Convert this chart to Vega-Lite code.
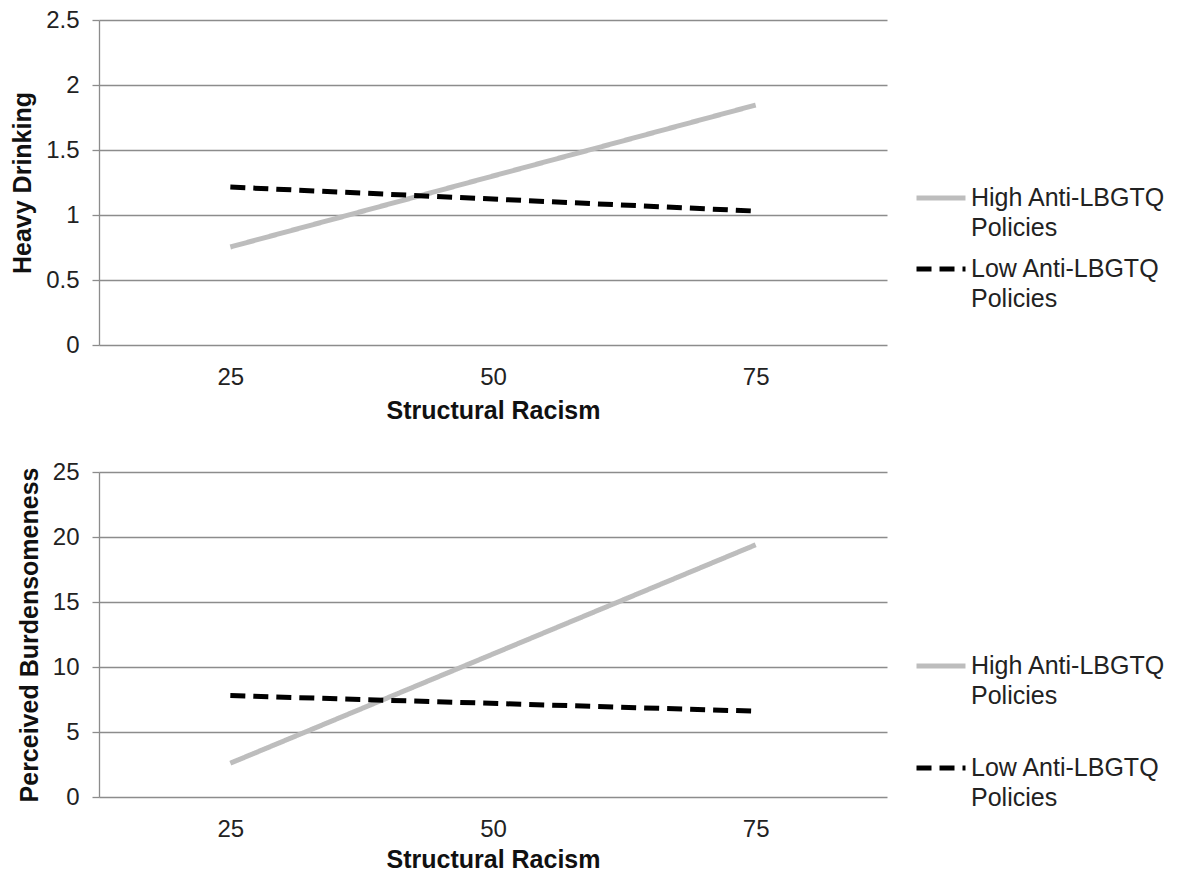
{
  "$schema": "https://vega.github.io/schema/vega-lite/v6.json",
  "background": "white",
  "padding": {"left": 10, "top": 8, "right": 0, "bottom": 5},
  "config": {
    "font": "Liberation Sans",
    "view": {"stroke": null},
    "concat": {"spacing": 37},
    "style": {"guide-label": {"lineHeight": 30}},
    "axis": {
      "labelFont": "Liberation Sans",
      "labelFontSize": 24,
      "labelColor": "#222222",
      "titleFont": "Liberation Sans",
      "titleFontSize": 25,
      "titleFontWeight": "bold",
      "titleColor": "#111111",
      "gridColor": "#8c8c8c",
      "gridWidth": 1.3,
      "domainColor": "#8c8c8c",
      "domainWidth": 1.3,
      "tickColor": "#8c8c8c",
      "tickWidth": 1.3
    },
    "legend": {
      "labelFont": "Liberation Sans",
      "labelFontSize": 25,
      "labelColor": "#222222",
      "labelLimit": 400
    }
  },
  "datasets": {
    "rows": [
      {"outcome": "Heavy Drinking", "policy": "High Anti-LBGTQ Policies", "racism": 25, "value": 0.754},
      {"outcome": "Heavy Drinking", "policy": "High Anti-LBGTQ Policies", "racism": 75, "value": 1.846},
      {"outcome": "Heavy Drinking", "policy": "Low Anti-LBGTQ Policies", "racism": 25, "value": 1.215},
      {"outcome": "Heavy Drinking", "policy": "Low Anti-LBGTQ Policies", "racism": 75, "value": 1.03},
      {"outcome": "Perceived Burdensomeness", "policy": "High Anti-LBGTQ Policies", "racism": 25, "value": 2.6},
      {"outcome": "Perceived Burdensomeness", "policy": "High Anti-LBGTQ Policies", "racism": 75, "value": 19.4},
      {"outcome": "Perceived Burdensomeness", "policy": "Low Anti-LBGTQ Policies", "racism": 25, "value": 7.8},
      {"outcome": "Perceived Burdensomeness", "policy": "Low Anti-LBGTQ Policies", "racism": 75, "value": 6.6}
    ]
  },
  "resolve": {"scale": {"color": "independent", "strokeDash": "independent"}, "legend": {"color": "independent", "strokeDash": "independent"}},
  "vconcat": [
    {
      "width": 788,
      "height": 325,
      "data": {"name": "rows"},
      "transform": [{"filter": "datum.outcome == 'Heavy Drinking'"}],
      "mark": {"type": "line", "strokeWidth": 5},
      "encoding": {
        "x": {
          "field": "racism", "type": "ordinal", "title": "Structural Racism",
          "scale": {"type": "point", "domain": [25, 50, 75], "padding": 0.5},
          "axis": {"labelAngle": 0, "ticks": false, "domain": false, "grid": false, "labelPadding": 20, "titlePadding": 9}
        },
        "y": {
          "field": "value", "type": "quantitative", "title": "Heavy Drinking",
          "scale": {"domain": [0, 2.5]},
          "axis": {"values": [0, 0.5, 1, 1.5, 2, 2.5], "format": "~g", "tickSize": 7, "labelPadding": 13, "titlePadding": 10}
        },
        "color": {
          "field": "policy", "type": "nominal",
          "scale": {"domain": ["High Anti-LBGTQ Policies", "Low Anti-LBGTQ Policies"], "range": ["#bdbdbd", "#000000"]},
          "legend": {"title": null, "orient": "none", "legendX": 815, "legendY": 151, "symbolType": "stroke", "symbolSize": 2400, "symbolStrokeWidth": 5, "labelOffset": 3, "rowPadding": 1, "labelExpr": "[replace(datum.label, ' Policies', ''), 'Policies']"}
        },
        "strokeDash": {
          "field": "policy", "type": "nominal",
          "scale": {"domain": ["High Anti-LBGTQ Policies", "Low Anti-LBGTQ Policies"], "range": [[1, 0], [15, 8]]},
          "legend": {"title": null, "orient": "none", "legendX": 815, "legendY": 151, "symbolType": "stroke", "symbolSize": 2400, "symbolStrokeWidth": 5, "labelOffset": 3, "rowPadding": 1, "labelExpr": "[replace(datum.label, ' Policies', ''), 'Policies']"}
        }
      }
    },
    {
      "width": 788,
      "height": 325,
      "data": {"name": "rows"},
      "transform": [{"filter": "datum.outcome == 'Perceived Burdensomeness'"}],
      "mark": {"type": "line", "strokeWidth": 5},
      "encoding": {
        "x": {
          "field": "racism", "type": "ordinal", "title": "Structural Racism",
          "scale": {"type": "point", "domain": [25, 50, 75], "padding": 0.5},
          "axis": {"labelAngle": 0, "ticks": false, "domain": false, "grid": false, "labelPadding": 20, "titlePadding": 6}
        },
        "y": {
          "field": "value", "type": "quantitative", "title": "Perceived Burdensomeness",
          "scale": {"domain": [0, 25]},
          "axis": {"values": [0, 5, 10, 15, 20, 25], "tickSize": 7, "labelPadding": 13, "titlePadding": 10}
        },
        "color": {
          "field": "policy", "type": "nominal",
          "scale": {"domain": ["High Anti-LBGTQ Policies", "Low Anti-LBGTQ Policies"], "range": ["#bdbdbd", "#000000"]},
          "legend": {"title": null, "orient": "none", "legendX": 815, "legendY": 167, "symbolType": "stroke", "symbolSize": 2400, "symbolStrokeWidth": 5, "labelOffset": 3, "rowPadding": 32, "labelExpr": "[replace(datum.label, ' Policies', ''), 'Policies']"}
        },
        "strokeDash": {
          "field": "policy", "type": "nominal",
          "scale": {"domain": ["High Anti-LBGTQ Policies", "Low Anti-LBGTQ Policies"], "range": [[1, 0], [15, 8]]},
          "legend": {"title": null, "orient": "none", "legendX": 815, "legendY": 167, "symbolType": "stroke", "symbolSize": 2400, "symbolStrokeWidth": 5, "labelOffset": 3, "rowPadding": 32, "labelExpr": "[replace(datum.label, ' Policies', ''), 'Policies']"}
        }
      }
    }
  ]
}
